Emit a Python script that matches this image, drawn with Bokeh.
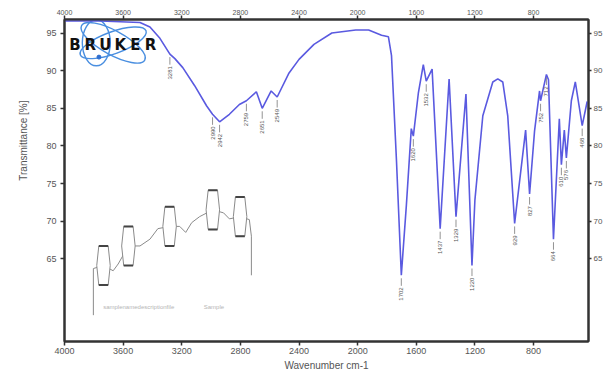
import math
from bokeh.plotting import figure
from bokeh.models import Range1d, LinearAxis, FixedTicker, Label, Title
from bokeh.core.properties import value
from bokeh.embed import file_html
from bokeh.resources import INLINE

# ---- spectrum ----
wavenumber = [4000, 3756, 3485, 3417, 3349, 3281, 3247, 3193, 3112, 3030, 2990, 2942, 2875, 2807,
              2759, 2691, 2651, 2590, 2549, 2468, 2400, 2298, 2176, 2013, 1925, 1837, 1790, 1769,
              1735, 1702, 1668, 1634, 1620, 1586, 1552, 1532, 1492, 1437, 1376, 1329, 1261, 1220,
              1200, 1146, 1078, 1044, 1010, 976, 929, 854, 827, 793, 759, 752, 712, 698, 664, 624,
              610, 590, 576, 542, 515, 468, 434]
transmittance = [96.6, 96.6, 96.4, 95.8, 94.3, 92.2, 91.6, 90.4, 88.0, 85.3, 84.2, 83.2, 84.2, 85.5,
                 86.0, 87.2, 85.0, 87.3, 86.5, 89.7, 91.5, 93.5, 95.0, 95.4, 95.4, 94.7, 94.5, 92.0,
                 78.0, 62.8, 72.0, 82.3, 81.3, 87.0, 90.8, 88.6, 90.2, 69.0, 88.9, 70.6, 86.9, 64.1,
                 72.8, 84.0, 88.5, 88.9, 88.5, 84.0, 69.7, 82.1, 73.6, 82.0, 87.3, 86.0, 89.5, 88.8,
                 67.6, 83.6, 77.5, 82.1, 78.4, 86.0, 88.5, 82.7, 85.9]

# ---- peak annotations ----
peak_wn = [3281, 2990, 2942, 2759, 2651, 2549, 1702, 1620, 1532, 1437, 1329, 1220, 929, 827,
           752, 712, 664, 610, 576, 468]
peak_T = [92.2, 84.2, 83.2, 86.0, 85.0, 86.5, 62.8, 81.3, 88.6, 69.0, 70.6, 64.1, 69.7, 73.6,
          86.0, 89.5, 67.6, 77.5, 78.4, 82.7]

# ---- ticks ----
x_ticks = [4000, 3600, 3200, 2800, 2400, 2000, 1600, 1200, 800]
y_ticks = [65, 70, 75, 80, 85, 90, 95]

# ---- decorative inset (peak-table thumbnail) ----
inset_wn = [3734, 3564, 3283, 2988, 2802]
inset_T = [64.1, 66.7, 69.3, 71.5, 70.6]
inset_path_wn = [3803, 3803, 3734, 3668, 3634, 3564, 3485, 3417, 3363, 3283, 3214, 3173, 3132,
                 3078, 2988, 2915, 2875, 2802, 2739, 2725, 2725]
inset_path_T = [57.5, 63.7, 64.1, 63.4, 64.3, 66.7, 66.7, 67.6, 69.0, 69.3, 69.3, 68.5, 69.8,
                70.6, 71.5, 71.1, 70.3, 70.6, 70.2, 68.0, 62.8]

# ---- logo ----
logo_letters = ["B", "R", "U", "K", "E", "R"]
logo_wn = [3928, 3825, 3722, 3619, 3516, 3413]
logo_T = 93.4

GRAY = "#555555"
FONT = "Liberation Sans"

p = figure(width=605, height=373, x_range=Range1d(4000, 425), y_range=Range1d(54.0, 96.8),
           output_backend="svg", toolbar_location=None,
           min_border_left=64, min_border_right=12, min_border_top=19, min_border_bottom=26)
p.xgrid.visible = False
p.ygrid.visible = False
p.outline_line_color = "#333333"
p.outline_line_width = 2
p.background_fill_color = "white"
p.border_fill_color = "white"

xb = p.xaxis[0]
xb.ticker = FixedTicker(ticks=x_ticks)
yl = p.yaxis[0]
yl.ticker = FixedTicker(ticks=y_ticks)
xt = LinearAxis(ticker=FixedTicker(ticks=x_ticks))
yr = LinearAxis(ticker=FixedTicker(ticks=y_ticks))
p.add_layout(xt, "above")
p.add_layout(yr, "right")
for ax in (xb, yl, xt, yr):
    ax.axis_line_color = "#333333"
    ax.axis_line_width = 2
    ax.major_tick_line_color = "#333333"
    ax.major_tick_line_width = 1.5
    ax.major_tick_out = 4
    ax.major_tick_in = 0
    ax.minor_tick_out = 0
    ax.minor_tick_in = 0
    ax.major_label_text_font_size = "8px"
    ax.major_label_text_color = GRAY
    ax.major_label_text_font = FONT
    ax.major_label_standoff = 3
xt.major_label_text_font_size = "7px"
xt.major_label_standoff = 1
xb.major_label_text_font_size = "9px"
xb.major_label_standoff = 2
yl.major_label_text_font_size = "9px"
yl.major_label_standoff = 4
yr.major_label_standoff = 2
yr.major_tick_out = 3

xb.axis_label = "Wavenumber cm-1"
xb.axis_label_text_font_size = "10px"
xb.axis_label_text_font_style = "normal"
xb.axis_label_text_color = GRAY
xb.axis_label_text_font = FONT
xb.axis_label_standoff = 3

p.add_layout(Title(text="Transmittance [%]", align="right", offset=81, standoff=30,
                   text_font_size="10px", text_font_style="normal", text_color=GRAY,
                   text_font=FONT), "left")

# logo orbits
p.ellipse(x=[3668, 3668, 3783], y=[93.7, 93.7, 93.7], width=[72, 70, 28], height=[24, 22, 46],
          width_units="screen", height_units="screen", angle=[-0.5, 0.35, 0.0],
          fill_alpha=0, line_color="#4a8fe0", line_width=1.4)
p.scatter(x=[3765], y=[91.8], size=4, color="#2f6fd0")
p.text(x=logo_wn, y=[logo_T] * 6, text=logo_letters, text_font=value("DejaVu Sans"),
       text_font_style="bold", text_font_size="15px", text_color="#111111",
       text_align="center", text_baseline="middle")

# inset thumbnail
p.line(inset_path_wn, inset_path_T, line_color="#8a8a8a", line_width=1)
hw, hh, bulge = 32, 2.6, 14
xs, ys = [], []
for c, t in zip(inset_wn, inset_T):
    xs.append([c - hw, c + hw, c + hw + bulge, c + hw, c - hw, c - hw - bulge])
    ys.append([t + hh, t + hh, t, t - hh, t - hh, t])
p.patches(xs, ys, fill_color="white", line_color="#8a8a8a", line_width=1)
p.segment(x0=[c - hw for c in inset_wn] * 2, y0=[t + hh for t in inset_T] + [t - hh for t in inset_T],
          x1=[c + hw for c in inset_wn] * 2, y1=[t + hh for t in inset_T] + [t - hh for t in inset_T],
          line_color="#444444", line_width=2)
p.add_layout(Label(x=3736, y=58.6, text="samplenamedescriptionfile", text_font_size="6px",
                   text_color="#b5b5b5", text_font=FONT, text_baseline="middle"))
p.add_layout(Label(x=3050, y=58.6, text="Sample", text_font_size="6px",
                   text_color="#b5b5b5", text_font=FONT, text_baseline="middle"))

# spectrum
p.line(wavenumber, transmittance, line_color="#5a5ae0", line_width=1.6)

# peak labels
p.segment(x0=peak_wn, y0=[t - 0.4 for t in peak_T], x1=peak_wn, y1=[t - 1.4 for t in peak_T],
          line_color="#777777", line_width=0.8)
p.text(x=peak_wn, y=[t - 1.6 for t in peak_T], text=[str(w) for w in peak_wn],
       angle=math.pi / 2, text_align="right", text_baseline="middle",
       text_font_size="6px", text_color="#555555", text_font=value(FONT))

open("out.html", "w").write(file_html(p, INLINE))
